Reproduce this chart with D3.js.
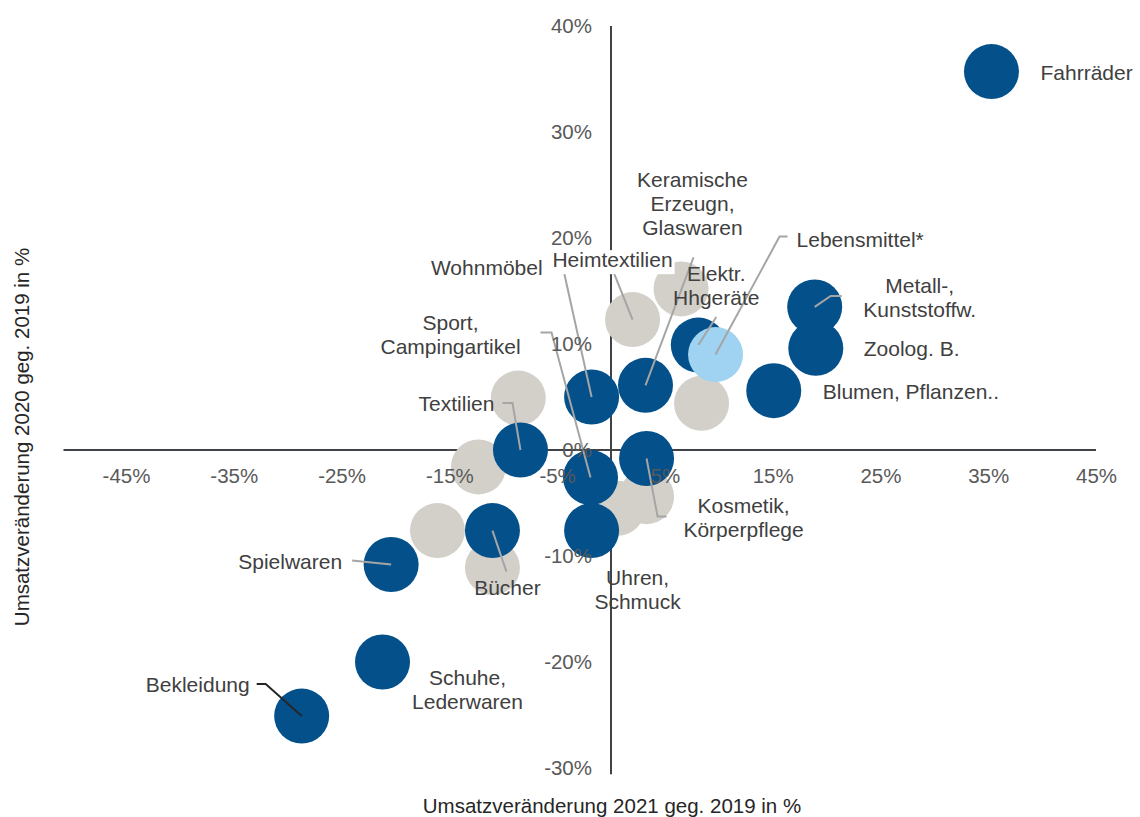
<!DOCTYPE html>
<html>
<head>
<meta charset="utf-8">
<script src="https://cdn.jsdelivr.net/npm/d3@7"></script>
<style>
  html, body { margin: 0; padding: 0; background: #fff; }
  svg { display: block; font-family: "Liberation Sans", Arial, sans-serif; }
</style>
</head>
<body>
<svg id="chart" width="1140" height="817"></svg>
<script>
// ---------- DATA ----------
// x = Umsatzveränderung 2021 geg. 2019 (%), y = Umsatzveränderung 2020 geg. 2019 (%)
const categories = ["Fahrräder", "Metall-, Kunststoffw.", "Zoolog. B.", "Blumen, Pflanzen..",
  "Elektr. Hhgeräte", "Keramische Erzeugn, Glaswaren", "Wohnmöbel", "Textilien",
  "Sport, Campingartikel", "Uhren, Schmuck", "Kosmetik, Körperpflege", "Bücher",
  "Spielwaren", "Schuhe, Lederwaren", "Bekleidung"];
const change2021 = [35.3, 18.9, 19.0, 15.1, 8.1, 3.2, -1.8, -8.4, -1.9, -1.8, 3.3, -11.0, -20.4, -21.2, -28.7];
const change2020 = [35.7, 13.5, 9.6, 5.6, 9.9, 6.1, 5.0, 0.0, -2.6, -7.6, -0.8, -7.6, -10.8, -20.0, -25.1];

const highlightCategory = ["Lebensmittel*"];
const highlight2021 = [9.7];
const highlight2020 = [9.0];

const otherCategories = ["Heimtextilien", "", "", "", "", "", "", "", ""];
const other2021 = [2.0, 6.5, 8.4, -8.6, -12.3, -16.1, -11.0, 3.3, 0.6];
const other2020 = [12.3, 15.2, 4.4, 4.9, -1.6, -7.6, -11.1, -4.4, -5.5];

const xTickValues = [-45, -35, -25, -15, -5, 5, 15, 25, 35, 45];
const yTickValues = [-30, -20, -10, 0, 10, 20, 30, 40];
const xTitle = "Umsatzveränderung 2021 geg. 2019 in %";
const yTitle = "Umsatzveränderung 2020 geg. 2019 in %";

// ---------- LAYOUT (label placement relative to the bubble, in px) ----------
const labelLayout = {
  "Fahrräder": {lines: ["Fahrräder"], dx: 49, dy: 1, anchor: "start"},
  "Metall-, Kunststoffw.": {lines: ["Metall-,", "Kunststoffw."], dx: 105, dy: -21, anchor: "middle", leader: [27, -11, 16]},
  "Zoolog. B.": {lines: ["Zoolog. B."], dx: 48, dy: 0, anchor: "start"},
  "Blumen, Pflanzen..": {lines: ["Blumen, Pflanzen.."], dx: 49, dy: 1, anchor: "start"},
  "Elektr. Hhgeräte": {lines: ["Elektr.", "Hhgeräte"], dx: 18, dy: -72, anchor: "middle", leader: [18, -28, null]},
  "Keramische Erzeugn, Glaswaren": {lines: ["Keramische", "Erzeugn,", "Glaswaren"], dx: 47, dy: -206, anchor: "middle", leader: [48, -128, null]},
  "Wohnmöbel": {lines: ["Wohnmöbel"], dx: -49, dy: -130, anchor: "end", leader: [-40, -131, -29]},
  "Textilien": {lines: ["Textilien"], dx: -26, dy: -47, anchor: "end", leader: [-18, -47, -8]},
  "Sport, Campingartikel": {lines: ["Sport,", "Campingartikel"], dx: -140, dy: -155, anchor: "middle", leader: [-50, -145, -39]},
  "Uhren, Schmuck": {lines: ["Uhren,", "Schmuck"], dx: 46, dy: 47, anchor: "middle"},
  "Kosmetik, Körperpflege": {lines: ["Kosmetik,", "Körperpflege"], dx: 97, dy: 47, anchor: "middle", leader: [20, 58, 11]},
  "Bücher": {lines: ["Bücher"], dx: 15, dy: 57, anchor: "middle", leader: [14, 41, null]},
  "Spielwaren": {lines: ["Spielwaren"], dx: -49, dy: -3, anchor: "end", leader: [-39, -4, null]},
  "Schuhe, Lederwaren": {lines: ["Schuhe,", "Lederwaren"], dx: 85, dy: 15, anchor: "middle"},
  "Bekleidung": {lines: ["Bekleidung"], dx: -52, dy: -32, anchor: "end", leader: [-45, -32, -36], dark: true},
  "Lebensmittel*": {lines: ["Lebensmittel*"], dx: 81, dy: -115, anchor: "start", leader: [72, -118, 64]},
  "Heimtextilien": {lines: ["Heimtextilien"], dx: -20, dy: -60, anchor: "middle", leader: [-20, -50, null], box: true}
};

// ---------- CHART ----------
const svg = d3.select("#chart");
const x = d3.scaleLinear().domain([-45, 45]).range([126, 1096]);
const y = d3.scaleLinear().domain([-30, 40]).range([768, 26]);
const R = 27.5;
const colDark = "#03508B", colLight = "#9FD3F1", colGrey = "#D3D0CA";
const lineH = 24;

// axis lines
svg.append("line").attr("x1", x(-50.8)).attr("x2", x(45)).attr("y1", y(0)).attr("y2", y(0))
  .attr("stroke", "#3f4246").attr("stroke-width", 2);
svg.append("line").attr("x1", x(0)).attr("x2", x(0)).attr("y1", y(40)).attr("y2", y(-30.6))
  .attr("stroke", "#3f4246").attr("stroke-width", 2);

const dark = categories.map((c, i) => ({name: c, x: change2021[i], y: change2020[i]}));
const light = highlightCategory.map((c, i) => ({name: c, x: highlight2021[i], y: highlight2020[i]}));
const other = otherCategories.map((c, i) => ({name: c, x: other2021[i], y: other2020[i]}));

const gPts = svg.append("g");
gPts.selectAll("circle.o").data(other).join("circle").attr("class", "o")
  .attr("cx", d => x(d.x)).attr("cy", d => y(d.y)).attr("r", R).attr("fill", colGrey);
gPts.selectAll("circle.d").data(dark).join("circle").attr("class", "d")
  .attr("cx", d => x(d.x)).attr("cy", d => y(d.y)).attr("r", R).attr("fill", colDark);
gPts.selectAll("circle.l").data(light).join("circle").attr("class", "l")
  .attr("cx", d => x(d.x)).attr("cy", d => y(d.y)).attr("r", R).attr("fill", colLight);

const labelled = [...dark, ...light, ...other].filter(d => d.name && labelLayout[d.name]);

// leader lines
const gLead = svg.append("g");
labelled.forEach(d => {
  const L = labelLayout[d.name];
  if (!L.leader) return;
  const cx = x(d.x), cy = y(d.y);
  const [sx, sy, ex] = L.leader;
  const pts = [[cx + sx, cy + sy]];
  if (ex !== null) pts.push([cx + ex, cy + sy]);
  pts.push([cx, cy]);
  gLead.append("path").attr("d", d3.line()(pts)).attr("fill", "none")
    .attr("stroke", L.dark ? "#262626" : "#A5A5A5").attr("stroke-width", 2);
});

// tick labels
const xAxis = svg.append("g").attr("transform", `translate(0,${y(0)})`)
  .call(d3.axisBottom(x).tickValues(xTickValues).tickSize(0).tickPadding(18).tickFormat(d => d + "%"));
const yAxis = svg.append("g").attr("transform", `translate(${x(0)},0)`)
  .call(d3.axisLeft(y).tickValues(yTickValues).tickSize(0).tickPadding(19).tickFormat(d => d + "%"));
[xAxis, yAxis].forEach(a => {
  a.select(".domain").remove();
  a.selectAll("text").attr("fill", "#595959").style("font-size", "20.5px")
    .style("font-family", "'Liberation Sans', Arial, sans-serif");
});

// data labels
const gLab = svg.append("g");
labelled.forEach(d => {
  const L = labelLayout[d.name];
  const cx = x(d.x), cy = y(d.y);
  const t = gLab.append("text").attr("text-anchor", L.anchor)
    .attr("fill", "#404040").style("font-size", "21px");
  L.lines.forEach((s, i) => {
    t.append("tspan").attr("x", cx + L.dx).attr("y", cy + L.dy + i * lineH).attr("dy", "0.36em").text(s);
  });
  if (L.box) {
    const bb = t.node().getBBox();
    gLab.insert("rect", () => t.node()).attr("x", bb.x - 2).attr("y", bb.y + 2)
      .attr("width", bb.width + 4).attr("height", bb.height + 1).attr("fill", "#fff");
  }
});

// axis titles
svg.append("text").attr("x", 612).attr("y", 806).attr("dy", "0.36em").attr("text-anchor", "middle")
  .attr("fill", "#262626").style("font-size", "20.5px").text(xTitle);
svg.append("text").attr("transform", `translate(22,437) rotate(-90)`).attr("dy", "0.36em")
  .attr("text-anchor", "middle").attr("fill", "#262626").style("font-size", "20.5px").text(yTitle);
</script>
</body>
</html>
